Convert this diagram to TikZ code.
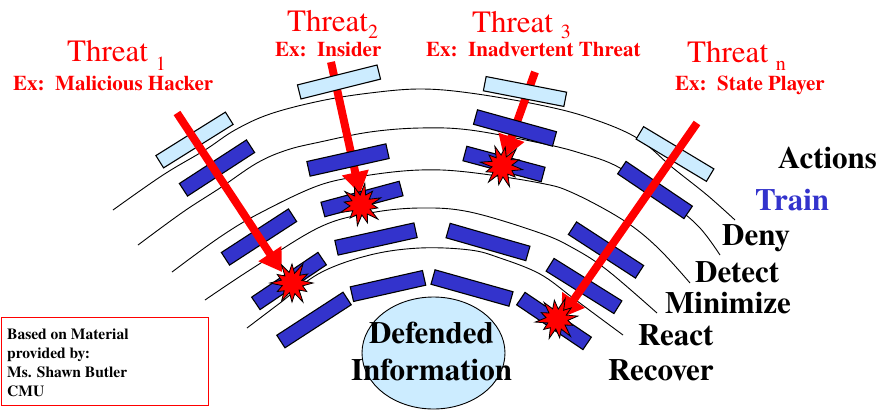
\documentclass[tikz,border=0pt]{standalone}
\usepackage{fontspec}
\IfFontExistsTF{texgyretermes-regular.otf}{%
  \setmainfont{texgyretermes}[Extension=.otf, UprightFont=*-regular, BoldFont=*-bold, ItalicFont=*-italic, BoldItalicFont=*-bolditalic]}{%
  \setmainfont{Liberation Serif}}
\usetikzlibrary{arrows.meta,shapes.geometric}
\definecolor{barblue}{HTML}{3333CC}
\definecolor{lightbar}{HTML}{CCECFF}
\newcommand\fsBig{\fontsize{31}{31}\selectfont}
\newcommand\fsEx{\fontsize{21}{21}\selectfont\bfseries}
\newcommand\fsSub{\fontsize{20}{20}\selectfont}
\newcommand\fsNote{\fontsize{15.5}{19}\selectfont\bfseries}
\newcommand\lowsub[2]{\smash{\raisebox{-#1}{\fsSub #2}}}
\tikzset{
  arcline/.style={draw=black, line width=0.9pt},
  bar/.style={rectangle, draw=black, line width=1.1pt, fill=barblue, minimum width=80pt, minimum height=15pt, inner sep=0pt},
  lbar/.style={bar, fill=lightbar, minimum width=82pt, minimum height=14.5pt},
  threat/.style={draw=red, line width=8pt, -{Triangle[length=22pt,width=26pt]}},
  lab/.style={anchor=base west, font=\fsBig\bfseries},
  ttl/.style={anchor=base west, text=red},
  boom/.pic={\filldraw[fill=red, draw=black, line width=0.8pt]
    (0:21)--(15:11)--(30:17)--(45:10)--(60:22)--(75:11)--(90:19)--(105:10)--(120:21)--(135:11)--(150:17)--(165:10)--(180:22)--(195:11)--(210:17)--(225:10)--(240:21)--(255:11)--(270:19)--(285:10)--(300:22)--(315:11)--(330:18)--(345:10)--cycle;}
}
\begin{document}
\begin{tikzpicture}[x=1pt, y=-1pt, every node/.style={inner sep=0pt}]
\useasboundingbox (0,0) rectangle (883,410);
% rings
\draw[arcline] plot[smooth, tension=0.6] coordinates {(113,210) (163,175) (205,150) (235,130) (270,114) (320,101) (370,93) (420,89) (470,93) (540,105) (590,118) (637,138) (673,168) (707,195) (735,220)};
\draw[arcline] plot[smooth, tension=0.6] coordinates {(138,245) (183,212) (220,188) (257,163) (287,150) (320,142) (370,132) (420,128) (470,130) (540,143) (580,153) (620,168) (673,205) (700,228) (720,255)};
\draw[arcline] plot[smooth, tension=0.6] coordinates {(172,272) (220,237) (260,213) (320,185) (370,175) (420,170) (467,172) (540,183) (573,193) (623,220) (657,247) (690,283)};
\draw[arcline] plot[smooth, tension=0.6] coordinates {(205,300) (253,268) (320,227) (370,213) (420,208) (470,212) (540,233) (573,248) (607,270) (657,313)};
\draw[arcline] plot[smooth, tension=0.6] coordinates {(247,328) (280,303) (320,273) (370,255) (420,248) (470,250) (500,258) (540,274) (573,298) (600,318) (623,335)};
% arrow coordinates
\coordinate (a1s) at (177,113); \coordinate (a1e) at (282,272);
\coordinate (a2s) at (331,62);  \coordinate (a2e) at (360,194);
\coordinate (a3s) at (535,72);  \coordinate (a3e) at (504,158);
\coordinate (ans) at (697,123); \coordinate (ane) at (561,318);
% arrows behind bars
\draw[threat] (a2s) -- (a2e);
\draw[threat] (a3s) -- (a3e);
% bars
\node[lbar, rotate=32] (lb1) at (194.5,140) {};
\node[lbar, rotate=14] (lb2) at (339,82) {};
\node[lbar, rotate=-11] (lb3) at (525,91.5) {};
\node[lbar, rotate=-31] (lbn) at (675,154) {};
\node[bar, rotate=33] (b1a) at (217,168) {};
\node[bar, rotate=33] (b1b) at (259,237) {};
\node[bar, rotate=34] (b1c) at (289,281) {};
\node[bar, rotate=33, minimum width=79pt] (b1d) at (314,320) {};
\node[bar, rotate=12.6, minimum width=81pt] (b2a) at (348,160) {};
\node[bar, rotate=15, minimum width=81pt] (b2b) at (362,199) {};
\node[bar, rotate=12.5, minimum width=81pt] (b2c) at (376,239) {};
\node[bar, rotate=12.7, minimum width=74pt] (b2d) at (388,286) {};
\node[bar, rotate=-15.5, minimum width=82pt] (b3a) at (515,128) {};
\node[bar, rotate=-15, minimum width=81pt] (b3b) at (504,164) {};
\node[bar, rotate=-16, minimum width=83pt] (b3c) at (488,242) {};
\node[bar, rotate=-15.7, minimum width=81pt] (b3d) at (472,288) {};
\node[bar, rotate=-34] (bna) at (655,190) {};
\node[bar, rotate=-33] (bnb) at (606,250) {};
\node[bar, rotate=-32] (bnc) at (584,286) {};
\node[bar, rotate=-34] (bnd) at (554,321) {};
% arrows on top of bars
\draw[threat] (a1s) -- (a1e);
\draw[threat] (ans) -- (ane);
% explosions
\pic (e1) at (292,283) {boom};
\pic[rotate=20] (e2) at (361,205) {boom};
\pic[rotate=-10] (e3) at (502,166) {boom};
\pic[rotate=8] (en) at (557,319) {boom};
% defended information
\node[ellipse, draw=black, line width=0.9pt, fill=lightbar, minimum width=143pt, minimum height=112pt] (info) at (433.5,353) {};
\node[anchor=base, font=\fsBig\bfseries] (def1) at (431.5,343) {Defended};
\node[anchor=base, font=\fsBig\bfseries] (def2) at (431.5,380) {Information};
% threat titles
\node[ttl] (t1) at (67,61) {\fsBig Threat~\lowsub{9pt}{1}};
\node[ttl] (x1) at (13,90) {\fsEx Ex:\ \ Malicious Hacker};
\node[ttl] (t2) at (287,31) {\fsBig Threat\lowsub{7pt}{2}};
\node[ttl] (x2) at (275,56) {\fsEx Ex:\ \ Insider};
\node[ttl] (t3) at (472,32) {\fsBig Threat~\lowsub{6pt}{3}};
\node[ttl] (x3) at (426,56) {\fsEx Ex:\ \ Inadvertent Threat};
\node[ttl] (tn) at (687,62) {\fsBig Threat~\lowsub{8pt}{n}};
\node[ttl] (xn) at (675,90) {\fsEx Ex:\ \ State Player};
% ring labels
\node[lab] (act) at (778,168) {Actions};
\node[lab, text=barblue] (trn) at (755,210) {Train};
\node[lab] (deny) at (722,245) {Deny};
\node[lab] (det) at (695,282) {Detect};
\node[lab] (min) at (665,313) {Minimize};
\node[lab] (rea) at (638,345) {React};
\node[lab] (rec) at (608,380) {Recover};
% credit box
\node[rectangle, draw=red, line width=1pt, anchor=north west, minimum width=207.5pt, minimum height=88pt] (box) at (0.5,317) {};
\node[anchor=base west, font=\fsNote] (n1) at (7,339) {Based on Material};
\node[anchor=base west, font=\fsNote] (n2) at (7,358) {provided by:};
\node[anchor=base west, font=\fsNote] (n3) at (7,377) {Ms. Shawn Butler};
\node[anchor=base west, font=\fsNote] (n4) at (7,396) {CMU};
\end{tikzpicture}
\end{document}
